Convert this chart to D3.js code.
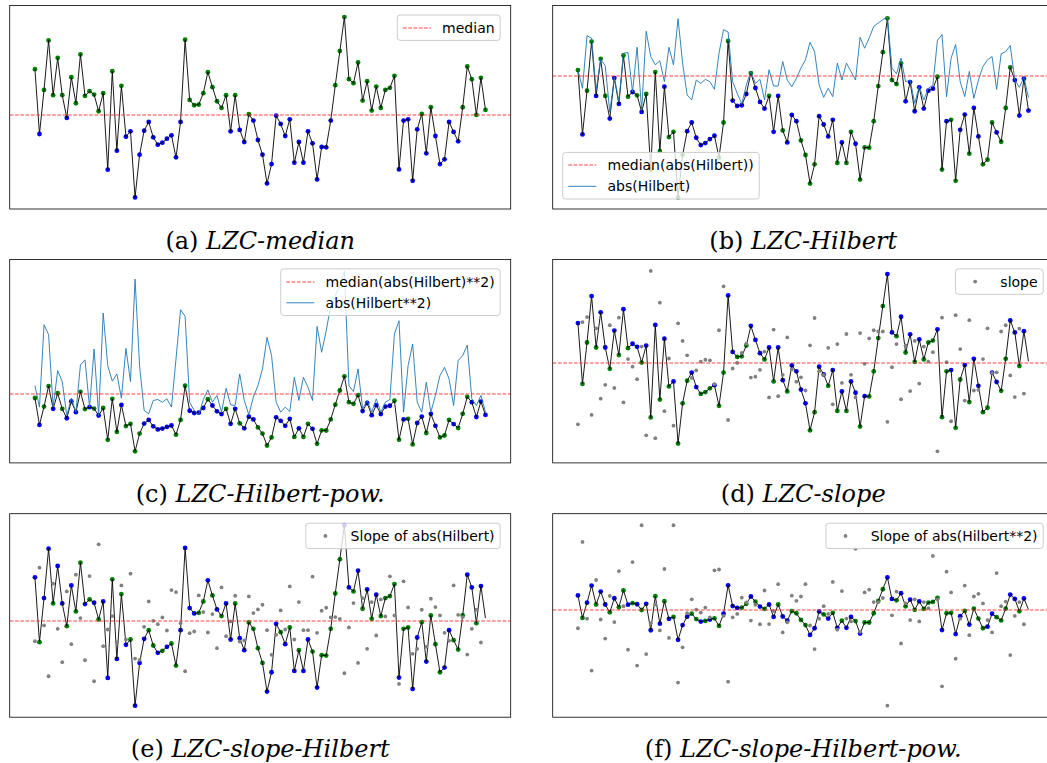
<!DOCTYPE html>
<html>
<head>
<meta charset="utf-8">
<script src="https://cdn.jsdelivr.net/npm/d3@7"></script>
<style>
  html, body { margin: 0; padding: 0; background: #fff; }
  svg { display: block; }
</style>
</head>
<body>
<svg id="fig" width="1047" height="763"></svg>
<script>
// Raw signal, 100 samples.
const signal = [
  129, -65, 67, 215, 51, 163, 51, -17, 105, 27,
  173, 49, 63, 53, 3, 57, -172, 123, -115, 79,
  -73, -57, -255, -127, -55, -29, -75, -97, -91, -79,
  -69, -135, -29, 217, 37, 21, 23, 57, 120, 75,
  33, 13, 51, -57, 51, -53, -89, -6, -25, -83,
  -127, -213, -155, -10, -35, -71, -21, -151, -89, -151,
  -57, -93, -201, -104, -105, -25, 81, 183, 285, 99,
  87, 149, 35, 93, 5, 77, 13, 67, 73, 109,
  -171, -25, -21, -205, -51, -5, -123, 15, -71, -155,
  -141, -29, -59, -87, 15, 137, 99, -8, 103, 7
];

// abs(Hilbert): envelope of the signal.
const envelope = [
  130, 74, 233, 225, 69, 162, 142, 2, 107, 34,
  180, 182, 63, 198, 8, 246, 170, 145, 157, 94,
  198, 145, 284, 150, 54, 39, 99, 89, 101, 94,
  71, 180, 251, 244, 94, 59, 27, 84, 125, 89,
  101, 39, 130, 81, 81, 155, 99, 79, 104, 135,
  160, 213, 185, 84, 47, 74, 49, 150, 99, 150,
  125, 99, 228, 195, 226, 261, 271, 281, 289, 135,
  118, 165, 94, 99, 29, 79, 39, 74, 84, 219,
  236, 49, 165, 206, 94, 49, 125, 44, 99, 140,
  160, 170, 71, 178, 185, 203, 99, 77, 107, 46
];

// abs(Hilbert**2): squared envelope.
const envelopeSq = [
  218, 63, 656, 584, 63, 326, 247, 3, 128, 27,
  367, 403, 63, 481, 3, 740, 362, 250, 302, 128,
  486, 247, 984, 359, 39, 15, 111, 118, 99, 123,
  63, 410, 764, 716, 99, 39, 8, 118, 187, 99,
  147, 27, 199, 80, 75, 302, 111, 8, 135, 218,
  338, 565, 434, 99, 27, 63, 32, 278, 111, 278,
  207, 111, 644, 458, 613, 792, 864, 936, 1043, 218,
  175, 338, 51, 111, 27, 123, 27, 99, 118, 589,
  685, 27, 362, 517, 99, 27, 242, 27, 147, 290,
  350, 266, 75, 398, 434, 510, 123, 75, 147, 27
];

// Slope of the signal (99 steps).
const slope = [
  -194, 132, 148, -164, 112, -112, -68, 122, -78, 146,
  -124, 14, -10, -50, 54, -229, 295, -238, 194, -152,
  16, -198, 128, 72, 26, -46, -22, 6, 12, 10,
  -66, 106, 246, -180, -16, 2, 34, 63, -45, -42,
  -20, 38, -108, 108, -104, -36, 83, -19, -58, -44,
  -86, 58, 145, -25, -36, 50, -130, 62, -62, 94,
  -36, -108, 97, -1, 80, 106, 102, 102, -186, -12,
  62, -114, 58, -88, 72, -64, 54, 6, 36, -280,
  146, 4, -184, 154, 46, -118, 138, -86, -84, 14,
  112, -30, -28, 102, 122, -38, -107, 111, -96
];

// Slope of abs(Hilbert).
const slopeEnv = [
  -62, 158, -15, -167, 110, -25, -125, 87, -71, 137,
  7, -119, 133, -182, 228, -77, -27, 13, -65, 105,
  -57, 140, -114, -118, -19, 57, -1, -11, 9, -30,
  91, 85, -8, -152, -38, -33, 75, 25, -36, 19,
  -83, 99, -47, -3, 74, -63, -60, 72, 22, 33,
  47, -29, -103, -43, 30, -27, 102, -57, 55, -29,
  -29, 131, -37, 29, 38, 9, 10, 5, -158, -21,
  52, -127, 67, -85, 55, -45, 63, 12, 132, 15,
  -190, 117, 39, -100, -85, 32, -79, 65, 40, 15,
  -37, -61, 105, 17, 10, -102, -25, 32, -66
];

// Slope of abs(Hilbert**2).
const slopeEnvSq = [
  -155, 593, -72, -521, 263, -79, -244, 125, -101, 340,
  36, -340, 418, -478, 737, -378, -112, 52, -174, 358,
  -239, 737, -625, -320, -24, 96, 7, -19, 24, -60,
  347, 354, -48, -617, -60, -31, 110, 69, -88, 48,
  -120, 172, -119, -5, 227, -191, -103, 127, 83, 120,
  227, -131, -335, -72, 36, -31, 246, -167, 167, -71,
  -96, 533, -186, 155, 179, 72, 72, 107, -825, -43,
  163, -287, 60, -84, 96, -96, 72, 19, 471, 96,
  -658, 335, 155, -418, -72, 215, -215, 120, 143, 60,
  -84, -191, 323, 36, 76, -387, -48, 72, -120
];

const captionTags = ["(a)", "(b)", "(c)", "(d)", "(e)", "(f)"];
const captionNames = ["LZC-median", "LZC-Hilbert", "LZC-Hilbert-pow.",
                      "LZC-slope", "LZC-slope-Hilbert", "LZC-slope-Hilbert-pow."];

const GREEN = "#008000", BLUE = "#0000ff", GRAY = "#808080",
      TRACE = "#000000", AUX = "#1f77b4", MEDIAN = "#ff2a2a";

const svg = d3.select("#fig");
svg.append("rect").attr("width", 1047).attr("height", 763).attr("fill", "#fff");

const PW = 501, PH = 203.5;
const frames = [
  { x0: 9.7,   y0: 5.5 },   { x0: 552.7, y0: 5.5 },
  { x0: 9.7,   y0: 259.4 }, { x0: 552.7, y0: 259.4 },
  { x0: 9.7,   y0: 513.7 }, { x0: 552.7, y0: 513.7 }
];

const panels = [
  { aux: null, kind: null, ref: signal, loc: "ur",
    legend: [{ type: "dash", label: "median" }] },
  { aux: envelope, kind: "line", ref: envelope, loc: "ll",
    legend: [{ type: "dash", label: "median(abs(Hilbert))" },
             { type: "line", label: "abs(Hilbert)" }] },
  { aux: envelopeSq, kind: "line", ref: envelopeSq, loc: "ur",
    legend: [{ type: "dash", label: "median(abs(Hilbert)**2)" },
             { type: "line", label: "abs(Hilbert**2)" }] },
  { aux: slope, kind: "dots", ref: slope, loc: "ur",
    legend: [{ type: "dot", label: "slope" }] },
  { aux: slopeEnv, kind: "dots", ref: slopeEnv, loc: "ur",
    legend: [{ type: "dot", label: "Slope of abs(Hilbert)" }] },
  { aux: slopeEnvSq, kind: "dots", ref: slopeEnv, loc: "ur",
    legend: [{ type: "dot", label: "Slope of abs(Hilbert**2)" }] }
];

const defs = svg.append("defs");

function dashLine(sel, x1, x2, yv) {
  // snap to a whole pixel so the 1.2px dash spreads evenly over two rows
  const yy = Math.round(yv);
  return sel.append("line")
    .attr("x1", x1).attr("x2", x2).attr("y1", yy).attr("y2", yy)
    .attr("stroke", MEDIAN).attr("stroke-width", 1.2).attr("stroke-opacity", 0.9)
    .attr("stroke-dasharray", "3.7,1.6");
}

panels.forEach((p, k) => {
  const f = frames[k];
  const g = svg.append("g");
  const clipId = "clip" + k;
  defs.append("clipPath").attr("id", clipId)
    .append("rect").attr("x", f.x0).attr("y", f.y0).attr("width", PW).attr("height", PH);

  const n = signal.length;
  const x = d3.scaleLinear()
    .domain([-(n - 1) * 0.056, (n - 1) * 1.056])
    .range([f.x0, f.x0 + PW]);
  const vals = p.aux ? signal.concat(p.aux) : signal;
  const [lo, hi] = d3.extent(vals);
  const pad = (hi - lo) * 0.064;
  const y = d3.scaleLinear().domain([lo - pad, hi + pad]).range([f.y0 + PH, f.y0]);

  const med = d3.median(p.ref);
  const body = g.append("g").attr("clip-path", `url(#${clipId})`);

  // markers coloured by position against the median of the reference series
  body.append("g").selectAll("circle")
    .data(d3.range(p.ref.length))
    .join("circle")
    .attr("cx", i => x(i))
    .attr("cy", i => y(signal[i]))
    .attr("r", 2.4)
    .attr("fill", i => p.ref[i] >= med ? GREEN : BLUE);

  // signal trace
  body.append("path")
    .attr("d", d3.line().x((d, i) => x(i)).y(d => y(d))(signal))
    .attr("fill", "none").attr("stroke", TRACE).attr("stroke-width", 0.9)
    .attr("stroke-linejoin", "round");

  // auxiliary series
  if (p.kind === "line") {
    body.append("path")
      .attr("d", d3.line().x((d, i) => x(i)).y(d => y(d))(p.aux))
      .attr("fill", "none").attr("stroke", AUX).attr("stroke-width", 0.9)
      .attr("stroke-linejoin", "round");
  } else if (p.kind === "dots") {
    body.append("g").selectAll("circle")
      .data(p.aux)
      .join("circle")
      .attr("cx", (d, i) => x(i))
      .attr("cy", d => y(d))
      .attr("r", 1.9)
      .attr("fill", GRAY);
  }

  // median reference line
  const medVal = d3.median(p.aux || signal);
  dashLine(body, f.x0, f.x0 + PW, y(medVal));

  // axes frame
  g.append("rect")
    .attr("x", f.x0).attr("y", f.y0).attr("width", PW).attr("height", PH)
    .attr("fill", "none").attr("stroke", "#000").attr("stroke-width", 0.8);

  // legend
  const fs = 14, bp = 5.6, hl = 28, htp = 11.2, rowH = 21.2, lineH = 14.2;
  const lg = g.append("g");
  const box = lg.append("rect");
  const texts = p.legend.map(it => lg.append("text")
    .attr("font-family", "DejaVu Sans").attr("font-size", fs).attr("fill", "#000")
    .text(it.label));
  const tw = d3.max(texts, t => t.node().getComputedTextLength());
  const bw = bp * 2 + hl + htp + tw;
  const bh = bp * 2 + lineH + (p.legend.length - 1) * rowH;
  let bx, by;
  if (p.loc === "ur") { bx = f.x0 + PW - 10.5 - bw; by = f.y0 + 9.5; }
  else { bx = f.x0 + 10; by = f.y0 + PH - 10 - bh; }
  box.attr("x", bx).attr("y", by).attr("width", bw).attr("height", bh)
    .attr("rx", 3).attr("fill", "#fff").attr("fill-opacity", 0.8)
    .attr("stroke", "#cccccc").attr("stroke-width", 1);
  p.legend.forEach((it, r) => {
    const cy = by + bp + lineH / 2 + r * rowH;
    const hx = bx + bp;
    if (it.type === "dash") {
      dashLine(lg, hx, hx + hl, cy);
    } else if (it.type === "line") {
      lg.append("line").attr("x1", hx).attr("x2", hx + hl).attr("y1", cy).attr("y2", cy)
        .attr("stroke", AUX).attr("stroke-width", 0.9);
    } else {
      lg.append("circle").attr("cx", hx + hl / 2).attr("cy", cy).attr("r", 1.9).attr("fill", GRAY);
    }
    texts[r].attr("x", hx + hl + htp).attr("y", cy).attr("dy", "0.36em");
  });

  // caption
  const cap = svg.append("text")
    .attr("x", f.x0 + PW / 2)
    .attr("y", f.y0 + PH + 39.5)
    .attr("text-anchor", "middle")
    .attr("font-family", "DejaVu Serif")
    .attr("font-size", 24)
    .attr("fill", "#000");
  cap.append("tspan").text(captionTags[k] + " ");
  cap.append("tspan").attr("font-style", "italic").text(captionNames[k]);
});
</script>
</body>
</html>
